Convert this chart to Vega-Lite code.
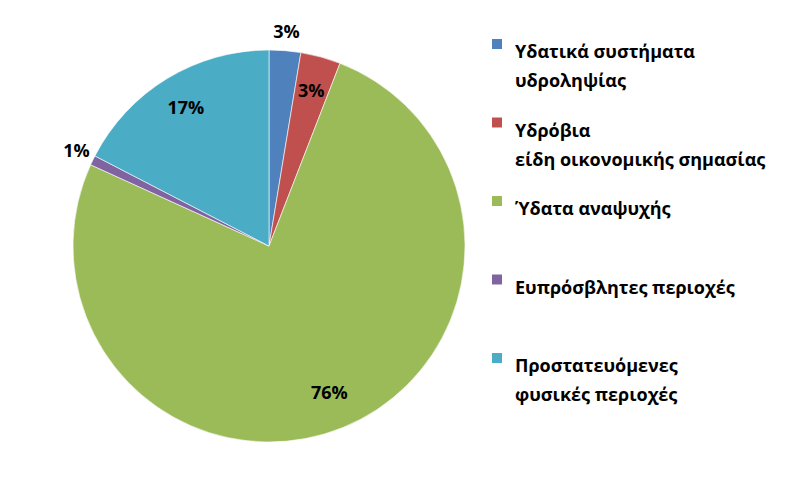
{
  "$schema": "https://vega.github.io/schema/vega-lite/v6.json",
  "width": 538,
  "height": 492,
  "padding": 0,
  "background": "white",
  "data": {
    "values": [
      {"i": 1, "cat": "Υδατικά συστήματα\nυδροληψίας", "value": 2.6, "pct": "3%"},
      {"i": 2, "cat": "Υδρόβια\nείδη οικονομικής σημασίας", "value": 3.3, "pct": "3%"},
      {"i": 3, "cat": "Ύδατα αναψυχής", "value": 75.9, "pct": "76%"},
      {"i": 4, "cat": "Ευπρόσβλητες περιοχές", "value": 0.8, "pct": "1%"},
      {"i": 5, "cat": "Προστατευόμενες\nφυσικές περιοχές", "value": 17.4, "pct": "17%"}
    ]
  },
  "layer": [
    {
      "mark": {"type": "arc", "outerRadius": 196, "stroke": "#ffffff", "strokeWidth": 0.6},
      "encoding": {
        "theta": {"field": "value", "type": "quantitative", "stack": true},
        "order": {"field": "i", "type": "quantitative"},
        "color": {
          "field": "cat",
          "type": "nominal",
          "scale": {
            "domain": ["Υδατικά συστήματα\nυδροληψίας", "Υδρόβια\nείδη οικονομικής σημασίας", "Ύδατα αναψυχής", "Ευπρόσβλητες περιοχές", "Προστατευόμενες\nφυσικές περιοχές"],
            "range": ["#4F81BD", "#C0504D", "#9BBB59", "#8064A2", "#4BACC6"]
          },
          "legend": {
            "title": null,
            "orient": "none",
            "legendX": 488,
            "legendY": 35,
            "symbolType": "square",
            "symbolSize": 100,
            "symbolStrokeWidth": 0,
            "labelFont": "Open Sans",
            "labelFontSize": 18,
            "labelFontWeight": "bold",
            "labelColor": "#000000",
            "labelLimit": 400,
            "labelOffset": 9,
            "labelBaseline": "top",
            "rowPadding": 22.5,
            "labelExpr": "split(datum.label + (indexof(datum.label, '\\n') < 0 ? '\\n\u00a0' : ''), '\\n')"
          }
        }
      }
    },
    {
      "mark": {"type": "text", "radius": 160, "font": "Open Sans", "fontSize": 18, "fontWeight": "bold", "color": "#000000"},
      "encoding": {
        "theta": {"field": "value", "type": "quantitative", "stack": true},
        "order": {"field": "i", "type": "quantitative"},
        "text": {"condition": {"test": "datum.value >= 3", "field": "pct", "type": "nominal"}, "value": ""}
      }
    },
    {
      "mark": {"type": "text", "radius": 214, "font": "Open Sans", "fontSize": 18, "fontWeight": "bold", "color": "#000000"},
      "encoding": {
        "theta": {"field": "value", "type": "quantitative", "stack": true},
        "order": {"field": "i", "type": "quantitative"},
        "text": {"condition": {"test": "datum.value < 3", "field": "pct", "type": "nominal"}, "value": ""}
      }
    }
  ],
  "config": {
    "view": {"stroke": null},
    "style": {"guide-label": {"lineHeight": 29}}
  }
}
